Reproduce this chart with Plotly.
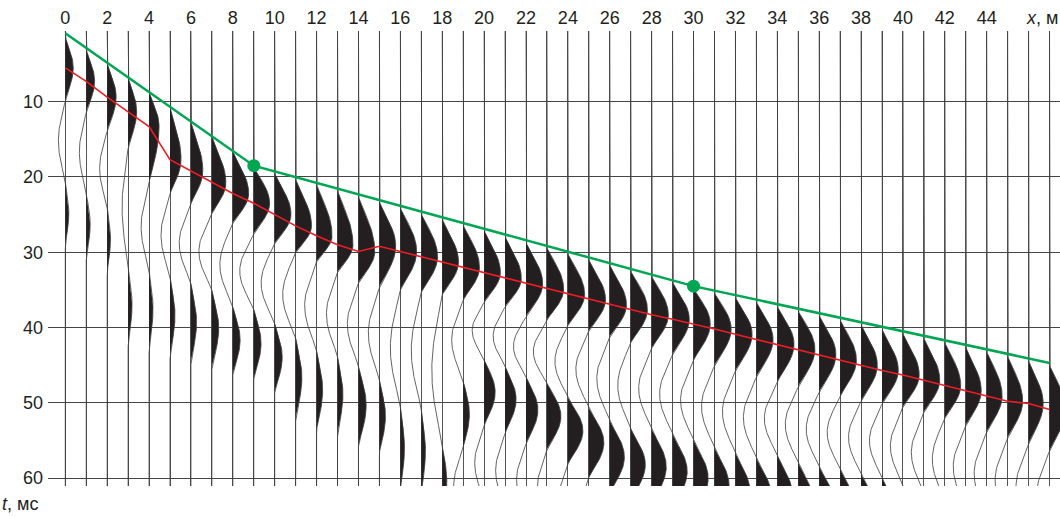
import numpy as np
import plotly.graph_objects as go

# ---------------- data ----------------
trace_x = list(range(48))                       # receiver positions, m
tick_labels = [str(v) if (v % 2 == 0 and v <= 44) else "" for v in trace_x]
t_ticks = [10, 20, 30, 40, 50, 60]

# first-arrival onset (ms) of each trace
t_onset = [1.4, 3.1, 4.9, 6.8, 8.7, 10.7, 12.7, 14.6, 16.6, 18.7,
           19.5, 20.3, 21.0, 21.8, 22.6, 23.3, 24.1, 24.9, 25.6, 26.4,
           27.1, 27.9, 28.7, 29.4, 30.2, 31.0, 31.7, 32.5, 33.2, 34.0,
           34.8, 35.4, 36.0, 36.6, 37.2, 37.8, 38.4, 39.0, 39.6, 40.2,
           40.8, 41.4, 42.0, 42.6, 43.2, 43.8, 44.4, 45.0]
# end of the first (black) lobe
t_e1_end = [9.8, 11.3, 13.8, 16.0, 20.8, 22.2, 23.5, 24.8, 26.1, 27.5,
            28.8, 30.0, 31.2, 32.6, 34.0, 34.6, 35.0, 35.3, 35.6, 36.3,
            36.6, 37.2, 38.5, 39.0, 39.7, 40.4, 41.2, 42.0, 42.7, 43.5,
            44.3, 45.0, 45.7, 46.5, 47.2, 47.8, 48.5, 49.1, 49.7, 50.1,
            50.5, 51.2, 52.0, 53.0, 53.8, 54.6, 55.4, 56.3]
# end of the following trough
t_n1_end = [20.6, 22.1, 23.9, 32.0, 32.4, 33.2, 34.1, 35.0, 37.2, 37.5,
            39.4, 41.3, 43.0, 43.8, 45.1, 46.9, 50.4, 50.8, 55.7, 47.0,
            44.2, 45.1, 46.5, 47.4, 49.3, 50.7, 52.4, 53.4, 53.5, 54.2,
            55.0, 56.0, 56.7, 57.4, 57.0, 58.0, 58.5, 58.8, 59.5, 60.0,
            61.0, 62.0, 63.0, 64.0, 65.0, 66.0, 67.0, 68.0]
# end of the second (black) lobe
t_e2_end = [29.0, 30.6, 32.6, 42.0, 42.7, 43.6, 44.5, 45.2, 46.1, 46.7,
            48.5, 52.0, 53.6, 54.0, 55.6, 56.6, 61.5, 62.0, 65.0, 56.0,
            53.0, 54.0, 55.4, 56.2, 58.1, 59.9, 62.0, 63.0, 63.5, 64.0,
            65.0, 66.0, 67.0, 67.0, 67.0, 68.0, 68.0, 69.0, 69.0, 70.0,
            71.0, 72.0, 73.0, 74.0, 75.0, 76.0, 77.0, 78.0]
# end of the second trough
t_n2_end = [None] * 19 + [66.0, 63.0, 64.0, 65.0, 66.0, 68.0, 70.0, 72.0, 73.0,
                          74.0, 74.0, 75.0, 76.0, 77.0, 77.0, 77.0, 78.0, 78.0,
                          79.0, 79.0, 80.0, 81.0, 82.0, 83.0, 84.0, 85.0, 86.0,
                          87.0, 88.0, 89.0]

# lobe amplitudes (m, in units of trace spacing)
amp_e1 = [0.38, 0.40, 0.43, 0.41, 0.48, 0.53, 0.57, 0.67, 0.76, 0.76,
          0.78, 0.76, 0.74, 0.74, 0.78, 0.78, 0.78, 0.78, 0.78, 0.78,
          0.78, 0.78, 0.80, 0.80, 0.80, 0.80, 0.80, 0.80, 0.80, 0.80,
          0.80, 0.80, 0.80, 0.80, 0.80, 0.80, 0.80, 0.78, 0.78, 0.78,
          0.78, 0.76, 0.76, 0.74, 0.74, 0.72, 0.70, 0.76]
amp_n1 = [-0.33, -0.33, -0.36, -0.29, -0.38, -0.43, -0.56, -0.62, -0.62, -0.67,
          -0.65, -0.62, -0.57, -0.53, -0.53, -0.53, -0.48, -0.48, -0.50, -0.55,
          -0.57, -0.57, -0.60, -0.65, -0.62, -0.62, -0.62, -0.62, -0.62, -0.62,
          -0.62, -0.62, -0.62, -0.62, -0.62, -0.62, -0.62, -0.62, -0.60, -0.60,
          -0.60, -0.60, -0.60, -0.60, -0.60, -0.60, -0.60, -0.60]
amp_e2 = [0.17, 0.19, 0.16, 0.19, 0.19, 0.24, 0.27, 0.33, 0.35, 0.35,
          0.36, 0.30, 0.29, 0.26, 0.37, 0.29, 0.20, 0.20, 0.22, 0.30,
          0.53, 0.53, 0.57, 0.67, 0.72, 0.72, 0.70, 0.70, 0.70, 0.70,
          0.70, 0.70, 0.70, 0.70, 0.70, 0.70, 0.70, 0.70, 0.70, 0.70,
          0.70, 0.70, 0.70, 0.70, 0.70, 0.70, 0.70, 0.70]
amp_n2 = [0.0] * 19 + [-0.45] * 29

# red picks (ms) - peaks of the first lobe
t_pick = [5.5, 7.3, 9.4, 11.3, 13.3, 17.7, 19.2, 20.8, 22.2, 23.5,
          25.0, 26.5, 27.8, 29.0, 29.9, 29.2, 29.9, 30.6, 31.3, 32.0,
          32.7, 33.5, 34.2, 34.9, 35.6, 36.3, 37.0, 37.6, 38.3, 38.9,
          39.5, 40.2, 40.9, 41.6, 42.2, 42.9, 43.6, 44.3, 45.0, 45.7,
          46.3, 47.0, 47.7, 48.4, 49.1, 49.8, 50.1, 50.9]
# green hodograph
green_x = [0, 9, 30, 47]
green_t = [0.9, 18.5, 34.5, 44.7]
dot_x = [9, 30]
dot_t = [18.5, 34.5]

# ---------------- figure ----------------
T_TOP, T_BOT = 0.61, 61.05
X_LEFT, X_RIGHT = -0.826, 47.5
t = np.arange(T_TOP, T_BOT + 0.05, 0.08)


def lobe(tt, z0, z1, amp, peak=None):
    if peak is None:
        peak = 0.5 * (z0 + z1)
    ph = np.where(tt < peak, 0.5 * (tt - z0) / (peak - z0),
                  0.5 + 0.5 * (tt - peak) / (z1 - peak))
    ph = np.clip(ph, 0, 1)
    return amp * np.sin(np.pi * ph) ** 1.15


fill_x, fill_y, line_x, line_y = [], [], [], []
for i, x0 in enumerate(trace_x):
    zs = [t_onset[i], t_e1_end[i], t_n1_end[i], t_e2_end[i]]
    amps = [amp_e1[i], amp_n1[i], amp_e2[i]]
    peaks = [t_pick[i], None, None]
    if t_n2_end[i] is not None:
        zs.append(t_n2_end[i])
        amps.append(amp_n2[i])
        peaks.append(None)
    d = np.zeros_like(t)
    for k in range(len(amps)):
        m = (t >= zs[k]) & (t <= zs[k + 1])
        d[m] = lobe(t[m], zs[k], zs[k + 1], amps[k], peaks[k])
    line_x += list(x0 + d) + [None]
    line_y += list(t) + [None]
    pos = d > 0
    idx = np.where(pos)[0]
    if len(idx):
        runs = np.split(idx, np.where(np.diff(idx) > 1)[0] + 1)
        for r in runs:
            fill_x += list(x0 + d[r]) + [x0, x0, None]
            fill_y += list(t[r]) + [t[r[-1]], t[r[0]], None]

fig = go.Figure()
fig.add_trace(go.Scatter(x=fill_x, y=fill_y, mode="lines", fill="toself",
                         fillcolor="#231f20", line=dict(width=0, color="#231f20"),
                         hoverinfo="skip"))
fig.add_trace(go.Scatter(x=line_x, y=line_y, mode="lines",
                         line=dict(width=0.8, color="#3c3c3c"), hoverinfo="skip"))
fig.add_trace(go.Scatter(x=trace_x, y=t_pick, mode="lines",
                         line=dict(width=1.6, color="#ee1c25")))
fig.add_trace(go.Scatter(x=green_x, y=green_t, mode="lines",
                         line=dict(width=2.5, color="#00a651")))
fig.add_trace(go.Scatter(x=dot_x, y=dot_t, mode="markers",
                         marker=dict(size=13, color="#00a651")))

font = dict(family="Liberation Sans, Arial, sans-serif", size=18, color="#231f20")
fig.update_layout(
    width=1060, height=517,
    margin=dict(l=48, r=0, t=31, b=31),
    paper_bgcolor="white", plot_bgcolor="white",
    showlegend=False, font=font,
    xaxis=dict(range=[X_LEFT, X_RIGHT], side="top", tickmode="array",
               tickvals=trace_x, ticktext=tick_labels, ticks="",
               showgrid=True, gridcolor="#555555", gridwidth=1.2,
               zeroline=False, showline=False, tickfont=font,
               ticklabelstandoff=2),
    yaxis=dict(range=[T_BOT, T_TOP], tickmode="array", tickvals=t_ticks,
               ticks="", showgrid=True, gridcolor="#454545", gridwidth=1.3,
               zeroline=False, showline=False, tickfont=font,
               ticklabelstandoff=4),
    annotations=[
        dict(text="<i>x</i>, м", xref="paper", yref="paper", x=1.0, y=1.0,
             xanchor="right", yanchor="bottom", yshift=1, showarrow=False,
             font=font),
        dict(text="<i>t</i>, мс", xref="paper", yref="paper", x=-0.0474, y=-0.04,
             xanchor="left", yanchor="middle", showarrow=False, font=font),
    ],
)

fig.write_html("out.html")
